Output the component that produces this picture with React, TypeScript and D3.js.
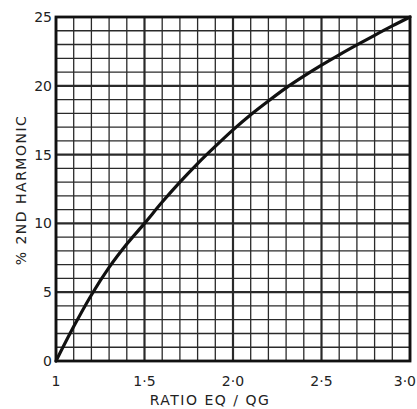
import * as d3 from "d3";

const ratios = [1.0, 1.1, 1.2, 1.3, 1.4, 1.5, 1.6, 1.7, 1.8, 1.9, 2.0, 2.1, 2.2, 2.3, 2.4, 2.5, 2.6, 2.7, 2.8, 2.9, 3.0];
const harmonic = [0, 2.5, 4.8, 6.8, 8.5, 10.0, 11.55, 13.0, 14.35, 15.6, 16.8, 17.9, 18.9, 19.85, 20.7, 21.5, 22.25, 22.97, 23.67, 24.35, 25];

const xTicks = [1, 1.5, 2.0, 2.5, 3.0];
const xTickLabels = ["1", "1·5", "2·0", "2·5", "3·0"];
const yTicks = [0, 5, 10, 15, 20, 25];

const W = 417;
const H = 409;
const left = 56;
const right = 410;
const top = 17;
const bottom = 361;
const font = "'DejaVu Sans', sans-serif";

export default function App() {
  const x = d3.scaleLinear().domain([1, 3]).range([left, right]);
  const y = d3.scaleLinear().domain([0, 25]).range([bottom, top]);

  const xMinor = d3.range(0, 21).map(i => 1 + i * 0.1);
  const yMinor = d3.range(0, 26);

  const pts = ratios.map((r, i) => [r, harmonic[i]] as [number, number]);
  const line = d3
    .line<[number, number]>()
    .x(d => x(d[0]))
    .y(d => y(d[1]))
    .curve(d3.curveMonotoneX);

  return (
    <svg width={W} height={H} style={{ position: "absolute", left: 0, top: 0, background: "#fff" }}>
      <rect width={W} height={H} fill="#fff" />
      {/* grid, heavier every 0.5 and every 5 % */}
      {xMinor.map((v, i) => (
        <line key={"xm" + i} x1={x(v)} x2={x(v)} y1={top} y2={bottom} stroke="#2a2a2a" strokeWidth={i % 5 === 0 ? 2.2 : 1.3} />
      ))}
      {yMinor.map((v, i) => (
        <line key={"ym" + i} x1={left} x2={right} y1={y(v)} y2={y(v)} stroke="#2a2a2a" strokeWidth={i % 5 === 0 ? 2.2 : 1.3} />
      ))}
      <rect x={left} y={top} width={right - left} height={bottom - top} fill="none" stroke="#111" strokeWidth={2.8} />
      <path d={line(pts) ?? ""} fill="none" stroke="#111" strokeWidth={3.2} strokeLinecap="round" />
      {yTicks.map(t => (
        <text key={"yt" + t} x={left - 4} y={y(t) + 5} textAnchor="end" fontFamily={font} fontSize={14} fill="#222">
          {t}
        </text>
      ))}
      {xTicks.map((t, i) => (
        <text
          key={"xt" + t}
          x={i === xTicks.length - 1 ? W - 1 : x(t)}
          y={386}
          textAnchor={i === xTicks.length - 1 ? "end" : "middle"}
          fontFamily={font}
          fontSize={14}
          fill="#222"
        >
          {xTickLabels[i]}
        </text>
      ))}
      <text x={210} y={405} textAnchor="middle" fontFamily={font} fontSize={14} fill="#222" letterSpacing={1.5}>
        RATIO  EQ / QG
      </text>
      <text
        transform={`translate(26, 190) rotate(-90)`}
        textAnchor="middle"
        fontFamily={font}
        fontSize={14}
        fill="#222"
        letterSpacing={1.5}
      >
        %  2ND  HARMONIC
      </text>
    </svg>
  );
}
